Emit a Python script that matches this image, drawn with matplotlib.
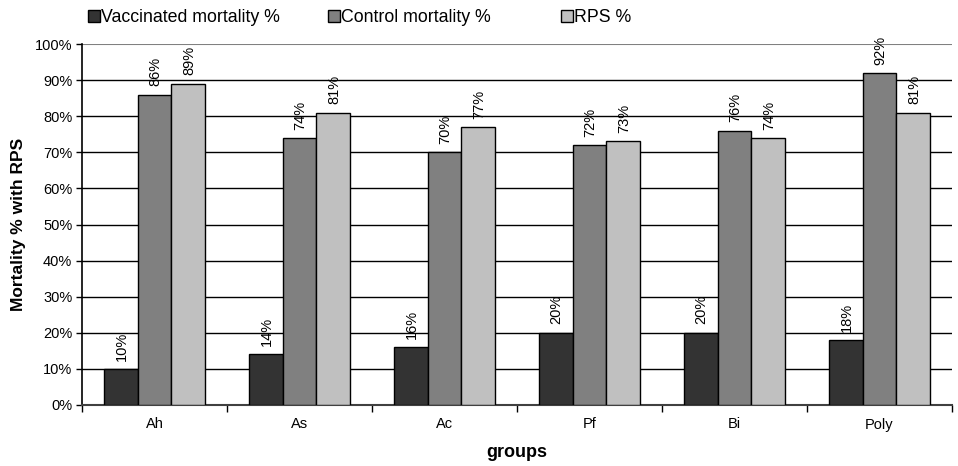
import matplotlib
matplotlib.use("Agg")
import matplotlib.pyplot as plt
import numpy as np
from matplotlib.ticker import FuncFormatter, FixedLocator

plt.rcParams['font.family'] = ['Liberation Sans', 'DejaVu Sans']

groups = ["Ah", "As", "Ac", "Pf", "Bi", "Poly"]
vaccinated = [10, 14, 16, 20, 20, 18]
control = [86, 74, 70, 72, 76, 92]
rps = [89, 81, 77, 73, 74, 81]
series_names = ["Vaccinated mortality %", "Control mortality %", "RPS %"]
colors = ["#333333", "#808080", "#c0c0c0"]

fig = plt.figure(figsize=(9.58, 4.66), dpi=100)
ax = fig.add_axes([82/958, 1-405/466, 870/958, 361/466])

x = np.arange(len(groups))
w = 0.233
series = [vaccinated, control, rps]
handles = []
for i, (vals, c, name) in enumerate(zip(series, colors, series_names)):
    pos = x + (i - 1) * w
    b = ax.bar(pos, vals, width=w, color=c, edgecolor="black", linewidth=1.0, label=name, zorder=3)
    handles.append(b)
    for p, v in zip(pos, vals):
        ax.annotate(f"{v}%", xy=(p, v), xytext=(0.5, 6), textcoords="offset points",
                    rotation=90, ha="center", va="bottom", fontsize=10.5, zorder=4)

ax.set_xlim(-0.5, len(groups) - 0.5)
ax.set_ylim(0, 100)
ax.set_yticks(np.arange(0, 101, 10))
ax.yaxis.set_major_formatter(FuncFormatter(lambda v, p: f"{int(v)}%"))
ax.set_xticks(x)
ax.set_xticklabels(groups, fontsize=10.5)
ax.xaxis.set_minor_locator(FixedLocator(np.arange(-0.5, len(groups), 1.0)))
ax.tick_params(axis="x", which="major", length=0, pad=9)
ax.tick_params(axis="x", which="minor", length=5, width=1, direction="out")
ax.tick_params(axis="y", labelsize=10.5, length=4, width=1, direction="out", pad=3)

for yv in range(10, 100, 10):
    ax.axhline(yv, color="black", linewidth=1.0, zorder=1)
ax.axhline(100, color="#808080", linewidth=1.5, zorder=1)

ax.spines["top"].set_visible(False)
ax.spines["right"].set_visible(False)
ax.spines["left"].set_color("black")
ax.spines["bottom"].set_color("#404040")
ax.spines["left"].set_linewidth(1.2)
ax.spines["bottom"].set_linewidth(1.5)

ax.set_xlabel("groups", fontsize=13, fontweight="bold")
ax.set_ylabel("Mortality % with RPS", fontsize=12.5, fontweight="bold")
ax.xaxis.set_label_coords(0.5, -0.108)
ax.yaxis.set_label_coords(-0.064, 0.5)

legend_x = [88, 328, 561]
for h, name, lx in zip(handles, series_names, legend_x):
    fig.legend(handles=[h], labels=[name], loc="upper left", bbox_to_anchor=(lx/958, 1 - 9/466),
               frameon=False, fontsize=12.8, handlelength=0.65, handleheight=0.65,
               handletextpad=0.1, borderpad=0, borderaxespad=0)

fig.savefig("out.png", dpi=100)
